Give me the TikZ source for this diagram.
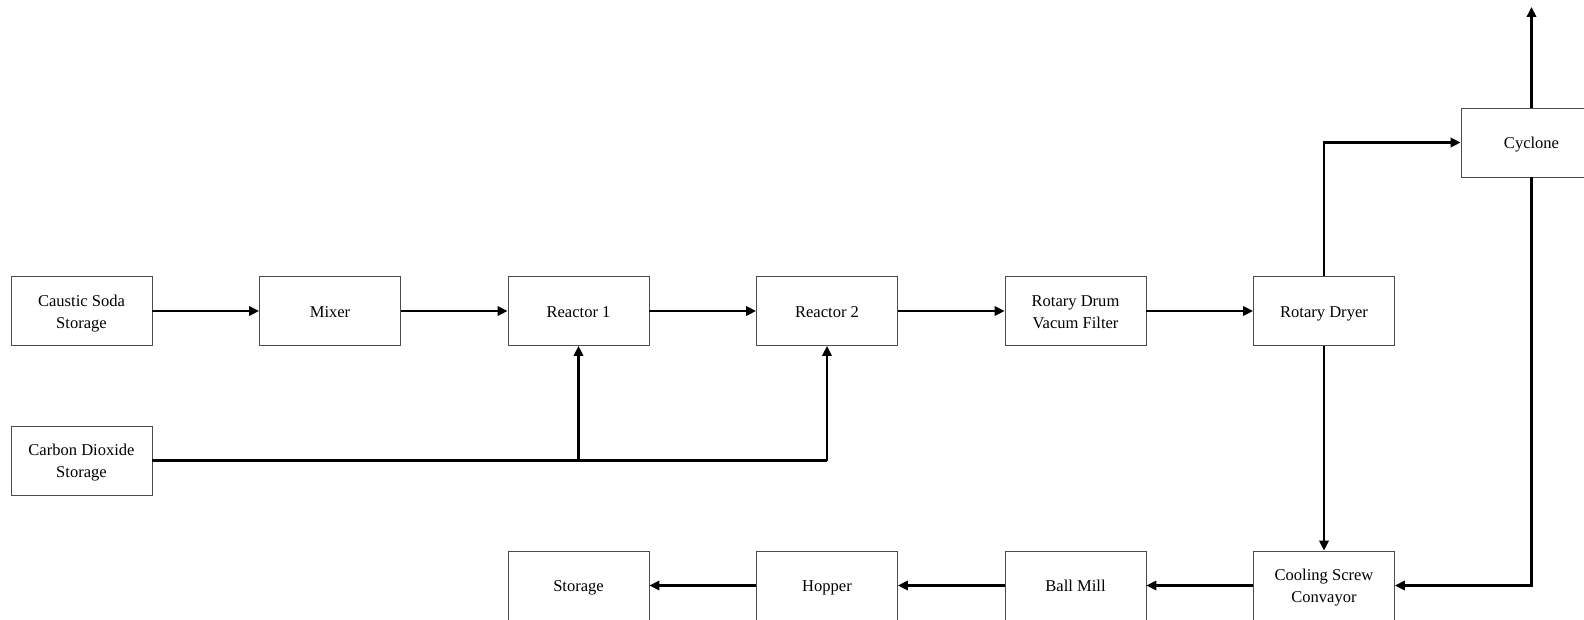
\documentclass[tikz,border=0pt]{standalone}
\usepackage{fontspec}
\setmainfont{Liberation Serif}
\usetikzlibrary{arrows.meta}
\newcommand\stt{\rule[-3.45pt]{0pt}{16.5pt}}
\begin{document}
\begin{tikzpicture}[x=0.75pt,y=-0.75pt,
  box/.style={draw=black!70,line width=0.6pt,minimum width=105.75pt,minimum height=51.75pt,inner sep=0pt,align=center,font=\fontsize{12.4}{16.5}\selectfont},
  flow/.style={line width=2.2pt,-{Triangle[length=7.5pt,width=7pt]}},
  line/.style={line width=2.2pt}]
\useasboundingbox (0,0) rectangle (1584,620);
\node[box] (caustic) at (81.5,311) {\stt Caustic Soda\\\stt Storage};
\node[box] (mixer) at (330,311) {\stt Mixer};
\node[box] (r1) at (578.5,311) {\stt Reactor 1};
\node[box] (r2) at (827,311) {\stt Reactor 2};
\node[box] (filter) at (1075.5,311) {\stt Rotary Drum\\\stt Vacum Filter};
\node[box] (dryer) at (1324,311) {\stt Rotary Dryer};
\node[box] (cyclone) at (1531.5,142.5) {\stt Cyclone};
\node[box] (co2) at (81.5,460.5) {\stt Carbon Dioxide\\\stt Storage};
\node[box] (cooling) at (1324,585.5) {\stt Cooling Screw\\\stt Convayor};
\node[box] (mill) at (1075.5,585.5) {\stt Ball Mill};
\node[box] (hopper) at (827,585.5) {\stt Hopper};
\node[box] (storage) at (578.5,585.5) {\stt Storage};
\coordinate (top) at (1531.5,7);
\coordinate (j1) at (r1.south |- co2.east);
\coordinate (j2) at (r2.south |- co2.east);
\coordinate (c1) at (cyclone.south |- cooling.east);
\coordinate (d1) at (dryer.north |- cyclone.west);
\draw[flow] (caustic) -- (mixer);
\draw[flow] (mixer) -- (r1);
\draw[flow] (r1) -- (r2);
\draw[flow] (r2) -- (filter);
\draw[flow] (filter) -- (dryer);
\draw[flow] (dryer.north) -- (d1) -- (cyclone.west);
\draw[flow] (cyclone.north) -- (top);
\draw[flow] (cyclone.south) -- (c1) -- (cooling.east);
\draw[flow] (dryer.south) -- (cooling.north);
\draw[flow] (cooling) -- (mill);
\draw[flow] (mill) -- (hopper);
\draw[flow] (hopper) -- (storage);
\draw[line] (co2.east) -- (j2);
\draw[flow] (j1) -- (r1.south);
\draw[flow] (j2) -- (r2.south);
\end{tikzpicture}
\end{document}
